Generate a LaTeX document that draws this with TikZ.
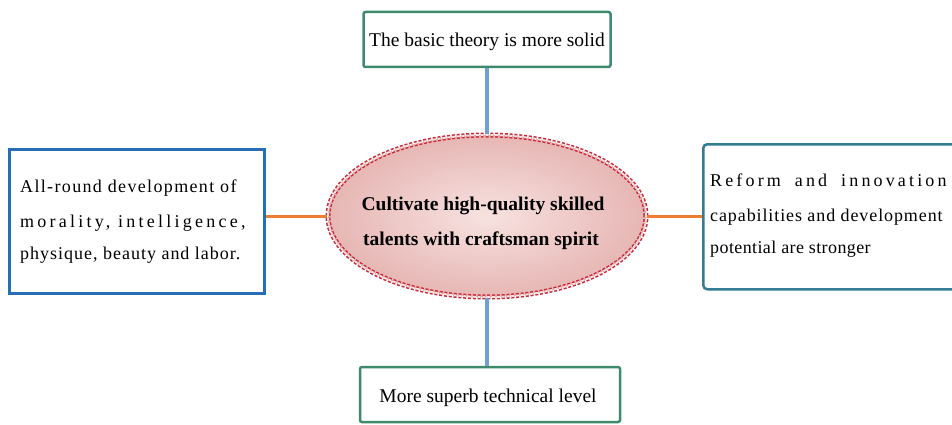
\documentclass[tikz,border=0pt]{standalone}
\usepackage{fontspec}
\setmainfont{Liberation Serif}
\usetikzlibrary{shapes.geometric}
\definecolor{boxgreen}{RGB}{62,138,108}
\definecolor{boxblue}{RGB}{40,110,182}
\definecolor{boxteal}{RGB}{50,125,145}
\definecolor{lineorange}{RGB}{237,125,49}
\definecolor{lineblue}{RGB}{110,160,215}
\definecolor{ellred}{RGB}{200,40,55}
\definecolor{ellin}{RGB}{247,226,224}
\definecolor{ellout}{RGB}{230,182,180}
\tikzset{
  greenbox/.style={draw=boxgreen, line width=2.5pt, rounded corners=2pt, fill=white, inner sep=0pt},
  sidebox/.style={line width=2.5pt, fill=white, inner sep=0pt, anchor=north west},
  conn/.style={line width=3.5pt},
  boxtxt/.style={font=\fontsize{19.5}{24}\selectfont},
  sidetxt/.style={font=\fontsize{18}{22}\selectfont, inner sep=0pt, anchor=base west},
  elltxt/.style={font=\bfseries\fontsize{19.5}{24}\selectfont, inner sep=0pt, anchor=base}
}
\begin{document}
\begin{tikzpicture}[x=1pt,y=-1pt]
\useasboundingbox (0,0) rectangle (952,425);
\clip (0,0) rectangle (952,425);
% boxes
\node[greenbox, minimum width=247pt, minimum height=55pt] (top) at (487,39.5) {};
\node[boxtxt] (toptxt) at (487,42) {The basic theory is more solid};
\node[greenbox, minimum width=260pt, minimum height=55pt] (bot) at (490,394.5) {};
\node[boxtxt] (bottxt) at (488,398) {More superb technical level};
\node[draw=boxblue, sidebox, minimum width=255pt, minimum height=144pt] (left) at (8,148) {};
\node[draw=boxteal, sidebox, rounded corners=4pt, minimum width=290pt, minimum height=145pt] (right) at (702,143) {};
% ellipse
\node[ellipse, minimum width=318pt, minimum height=162pt, inner color=ellin, outer color=ellout,
      draw=ellred, double=ellout!40, double distance=2pt, line width=1.5pt, dash pattern=on 3pt off 1.8pt] (ell) at (487,216) {};
% left texts
\node[sidetxt] (l1) at (20,192) {\addfontfeature{LetterSpace=7.5}All-round development of};
\node[sidetxt] (l2) at (20,227) {\addfontfeature{LetterSpace=18}morality, intelligence,};
\node[sidetxt] (l3) at (20,259) {\addfontfeature{LetterSpace=5.5}physique, beauty and labor.};
% right texts
\node[sidetxt] (r1) at (710,186) {\addfontfeature{LetterSpace=17.5}Reform\hspace{14pt}and\hspace{14pt}innovation};
\node[sidetxt] (r2) at (710,221) {\addfontfeature{LetterSpace=5}capabilities and development};
\node[sidetxt] (r3) at (710,253) {\addfontfeature{LetterSpace=2.2}potential are stronger};
% ellipse texts
\node[elltxt] (e1) at (483,210) {Cultivate high-quality skilled};
\node[elltxt] (e2) at (481,245) {talents with craftsman spirit};
% connectors
\draw[conn, lineblue] (top.south) -- (top.south |- ell.north);
\draw[conn, lineblue] (ell.south) -- (ell.south |- bot.north);
\draw[conn, lineorange, line width=3pt] (ell.west) -- (ell.west -| left.east);
\draw[conn, lineorange, line width=3pt] (ell.east) -- (ell.east -| right.west);
\end{tikzpicture}
\end{document}
